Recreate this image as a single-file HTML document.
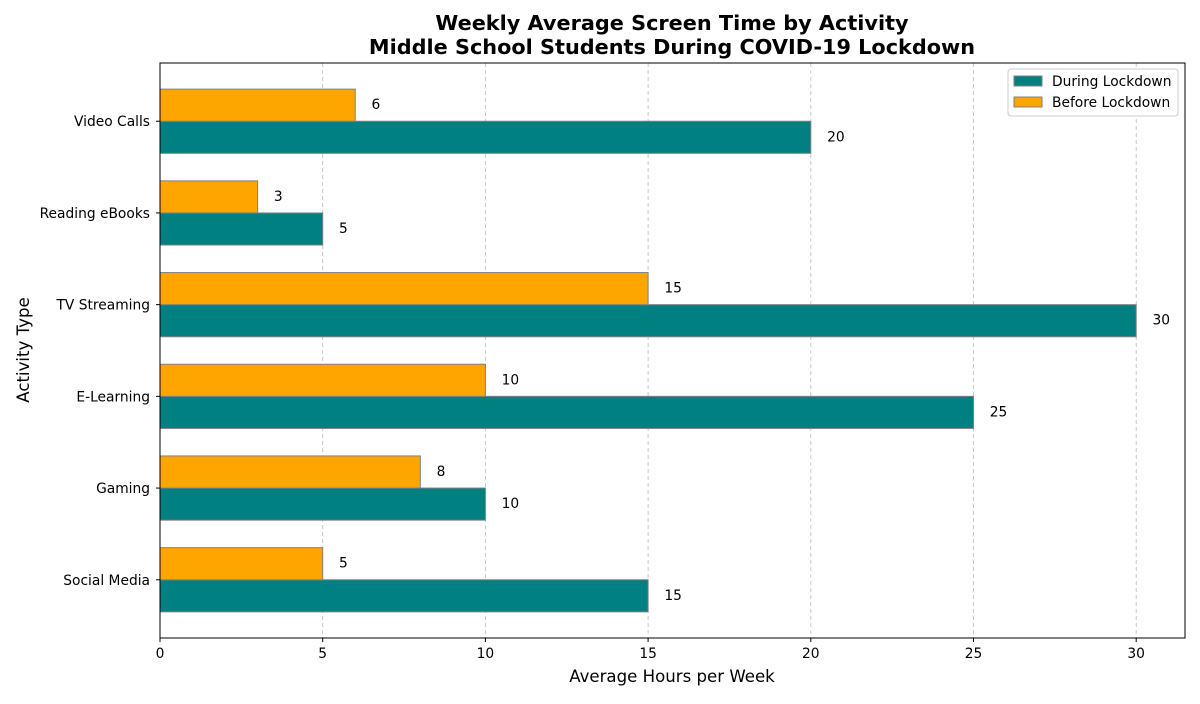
<!DOCTYPE html>
<html><head><meta charset="utf-8"><style>
body{margin:0;background:#fff;font-family:"DejaVu Sans","Liberation Sans",sans-serif}
svg text{font-family:"DejaVu Sans","Liberation Sans",sans-serif}
</style></head><body>
<svg id="chart" width="1200" height="700" xmlns="http://www.w3.org/2000/svg">
<text x="672" y="30" text-anchor="middle" font-size="20.8" font-weight="bold">Weekly Average Screen Time by Activity</text>
<text x="672" y="54" text-anchor="middle" font-size="20.8" font-weight="bold">Middle School Students During COVID-19 Lockdown</text>
<g id="grid"></g><g id="bars"></g><g id="axes"></g>
<text x="672" y="682" text-anchor="middle" font-size="16.6">Average Hours per Week</text>
<text transform="translate(29,350) rotate(-90)" text-anchor="middle" font-size="16.6">Activity Type</text>
<g>
<rect x="1008" y="69" width="170" height="47" fill="#fff" stroke="#ccc" rx="3"/>
<g><rect x="1014" y="76" width="28" height="10" fill="#008080" stroke="#808080"/><text x="1052" y="86" font-size="13.8">During Lockdown</text></g>
<g><rect x="1014" y="97" width="28" height="10" fill="#FFA500" stroke="#808080"/><text x="1052" y="107" font-size="13.8">Before Lockdown</text></g>
</g>
</svg>
<script>
const categories=["Social Media","Gaming","E-Learning","TV Streaming","Reading eBooks","Video Calls"];
const duringValues=[15,10,25,30,5,20];
const beforeValues=[5,8,10,15,3,6];
const xTicks=[0,5,10,15,20,25,30];
const L=160,R=1185,T=63,B=638,xMax=31.5,yMin=-0.635,yMax=5.635,bh=0.35;
const xs=v=>L+v/xMax*(R-L);
const ys=v=>B-(v-yMin)/(yMax-yMin)*(B-T);
const NS="http://www.w3.org/2000/svg";
function mk(t,a,p){const e=document.createElementNS(NS,t);for(const k in a)e.setAttribute(k,a[k]);p.appendChild(e);return e;}
const grid=document.getElementById('grid'),bars=document.getElementById('bars'),axes=document.getElementById('axes');
xTicks.forEach(t=>{
 const g=mk('line',{x1:xs(t),x2:xs(t),y1:T,y2:B,stroke:'#bbb','stroke-dasharray':'4,3','stroke-width':0.8},grid);
 
 
 mk('line',{x1:xs(t),x2:xs(t),y1:B,y2:B+4,stroke:'#000'},axes);
 const tx=mk('text',{x:xs(t),y:B+20,'text-anchor':'middle','font-size':13.8},axes);tx.textContent=t;
 
 
});
categories.forEach((c,i)=>{
 const yc=ys(i),h=ys(0)-ys(bh);
 const b1=mk('rect',{x:xs(0),y:yc,width:xs(duringValues[i])-xs(0),height:h,fill:'#008080',stroke:'#808080'},bars);
 
 
 const b2=mk('rect',{x:xs(0),y:yc-h,width:xs(beforeValues[i])-xs(0),height:h,fill:'#FFA500',stroke:'#808080'},bars);
 
 
 const l1=mk('text',{x:xs(duringValues[i]+0.5),y:yc+h/2+4,'font-size':13.8},bars);l1.textContent=duringValues[i];
 
 
 const l2=mk('text',{x:xs(beforeValues[i]+0.5),y:yc-h/2+4,'font-size':13.8},bars);l2.textContent=beforeValues[i];
 
 
 mk('line',{x1:L-4,x2:L,y1:yc,y2:yc,stroke:'#000'},axes);
 const tl=mk('text',{x:L-10,y:yc+5,'text-anchor':'end','font-size':13.8},axes);tl.textContent=c;
 
 
});
const fr=mk('rect',{x:L,y:T,width:R-L,height:B-T,fill:'none',stroke:'#000','stroke-width':1},axes);


</script>
</body></html>
